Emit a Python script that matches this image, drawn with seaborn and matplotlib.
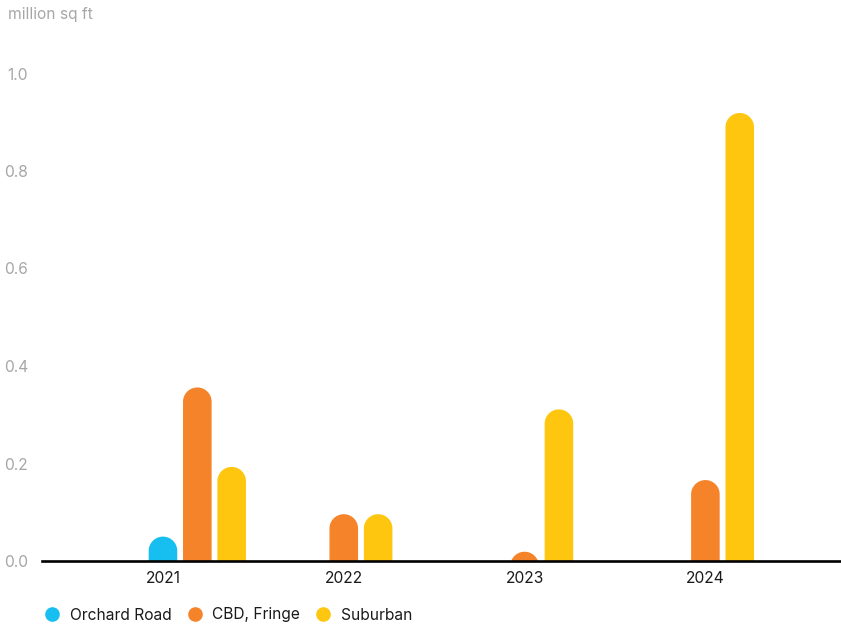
import numpy as np
import pandas as pd
import matplotlib
matplotlib.use("Agg")
import matplotlib.pyplot as plt
import seaborn as sns
from matplotlib.patches import Polygon
from matplotlib.lines import Line2D

# ---- data ----
years = ["2021", "2022", "2023", "2024"]
series = ["Orchard Road", "CBD, Fringe", "Suburban"]
orchard_road = [0.050, np.nan, np.nan, np.nan]
cbd_fringe = [0.356, 0.096, 0.019, 0.166]
suburban = [0.193, 0.096, 0.311, 0.919]
y_ticks = [0.0, 0.2, 0.4, 0.6, 0.8, 1.0]
y_tick_labels = ["0.0", "0.2", "0.4", "0.6", "0.8", "1.0"]
colors = ["#17BEF0", "#F5832A", "#FEC60E"]

# ---- styling ----
sns.set_style("white")
plt.rcParams["font.family"] = ["Inter", "DejaVu Sans"]
FS = 11.2
GRAY = "#A6A6A6"
DARK = "#1A1A1A"
SLOT = 0.19       # spacing between consecutive non-empty bars in a group
BAR_W = 0.158     # bar width in category units

rows = []
for i, yr in enumerate(years):
    rank = 0
    for s, vals in zip(series, [orchard_road, cbd_fringe, suburban]):
        v = vals[i]
        if not np.isnan(v):
            rows.append(dict(year=yr, idx=i, slot=rank, series=s, value=v))
            rank += 1
df = pd.DataFrame(rows)
df["pos"] = df["idx"] + df["slot"] * SLOT

W, H = 841, 627
fig = plt.figure(figsize=(W / 100, H / 100), dpi=100)
ax_left, ax_right = 42 / W, 1.0
y0_px, y1_px = 561, 73.5
ylim = (0, 1.05)
top_px = y0_px - (y0_px - y1_px) * ylim[1]
ax = fig.add_axes([ax_left, 1 - y0_px / H, ax_right - ax_left, (y0_px - top_px) / H])

sns.barplot(data=df, x="pos", y="value", hue="series", hue_order=series,
            palette=dict(zip(series, colors)), native_scale=True, dodge=False,
            saturation=1, errorbar=None, legend=False, ax=ax)

xlim = (-0.669, 3.75)
ax.set_xlim(*xlim)
ax.set_ylim(*ylim)

# convert bars to rounded-top shapes
ax_w_px = (ax_right - ax_left) * W
ax_h_px = (y0_px - top_px)
px_per_x = ax_w_px / (xlim[1] - xlim[0])
px_per_y = ax_h_px / (ylim[1] - ylim[0])
for p in list(ax.patches):
    x0, w, h = p.get_x(), p.get_width(), p.get_height()
    if not np.isfinite(h) or h == 0:
        p.remove()
        continue
    c = p.get_facecolor()
    p.remove()
    cx = x0 + w / 2
    hw = BAR_W / 2
    ry = hw * px_per_x / px_per_y
    cy = h - ry
    t = np.linspace(np.pi, 0, 80)
    verts = [(cx - hw, -0.3), (cx - hw, cy)]
    verts += list(zip(cx + hw * np.cos(t), cy + ry * np.sin(t)))
    verts += [(cx + hw, cy), (cx + hw, -0.3)]
    ax.add_patch(Polygon(verts, closed=True, facecolor=c, edgecolor="none",
                         clip_on=True, zorder=2))

ax.set_xticks(range(len(years)))
ax.set_xticklabels(years)
ax.set_yticks(y_ticks)
ax.set_yticklabels(y_tick_labels)
ax.set_xlabel("")
ax.set_ylabel("")
for s in ["left", "top", "right"]:
    ax.spines[s].set_visible(False)
ax.spines["bottom"].set_color("black")
ax.spines["bottom"].set_linewidth(1.9)
ax.spines["bottom"].set_zorder(3)
ax.tick_params(axis="x", length=0, pad=7, labelsize=FS, labelcolor=DARK)
ax.tick_params(axis="y", length=0, pad=10, labelsize=FS, labelcolor=GRAY)
ax.grid(False)

fig.text(8 / W, 1 - 14 / H, "million sq ft", ha="left", va="center",
         fontsize=FS, color=GRAY)

handles = [Line2D([], [], marker="o", ls="none", markersize=9.5,
                  markerfacecolor=c, markeredgecolor=c) for c in colors]
fig.legend(handles, series, loc="center left",
           bbox_to_anchor=(44.5 / W, 1 - 615 / H), ncol=3, frameon=False,
           fontsize=FS, labelcolor=DARK, borderpad=0, borderaxespad=0,
           handlelength=1.0, handletextpad=0.62, columnspacing=1.0)

fig.savefig("out.png", dpi=100)
